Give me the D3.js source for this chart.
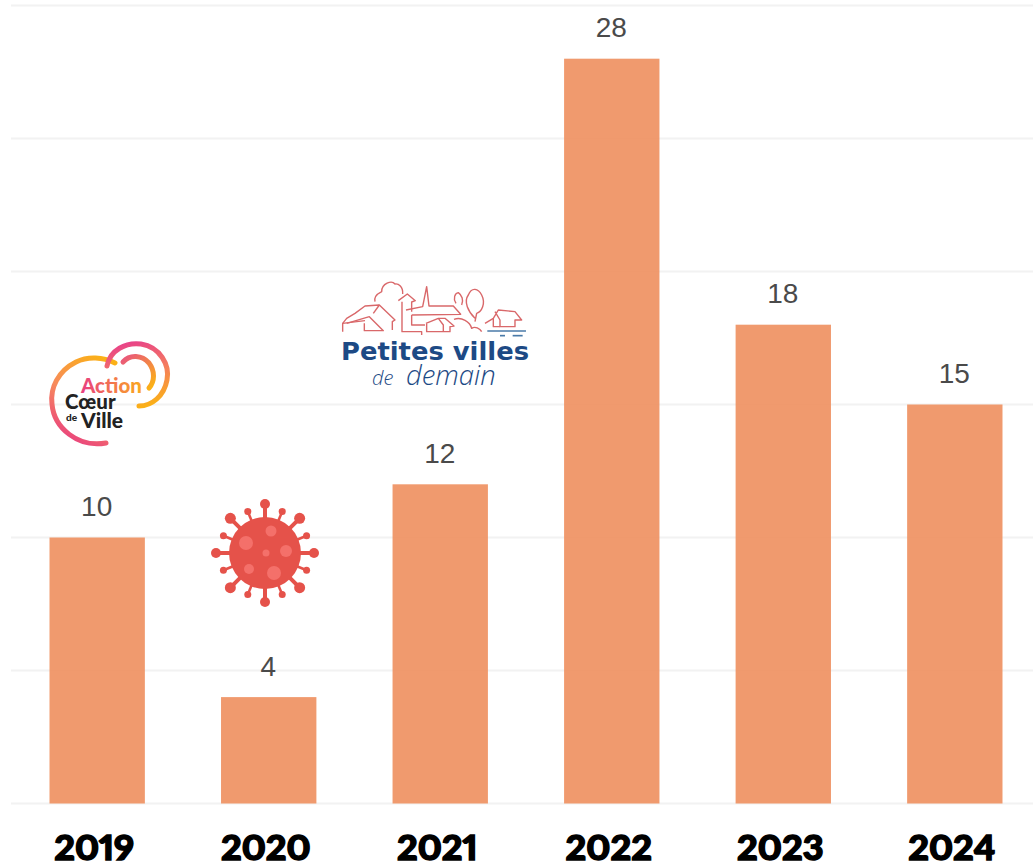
<!DOCTYPE html>
<html>
<head>
<meta charset="utf-8">
<script src="https://d3js.org/d3.v7.min.js"></script>
<style>
html, body { margin: 0; padding: 0; background: #fff; overflow: hidden; }
svg { display: block; }
</style>
</head>
<body>
<div id="chart-area"></div>
<script>
// Chart data
var years = ["2019", "2020", "2021", "2022", "2023", "2024"];
var counts = [10, 4, 12, 28, 18, 15];
var gridTicks = [0, 5, 10, 15, 20, 25, 30];

var width = 1033, height = 863;

var svg = d3.select("#chart-area").append("svg")
    .attr("width", width)
    .attr("height", height);

var defs = svg.append("defs");

// Scales
var x = d3.scaleBand()
    .domain(years)
    .range([49.5, 1002.5])
    .paddingInner(0.444)
    .paddingOuter(0);

var y = d3.scaleLinear()
    .domain([0, 30])
    .range([803.5, 5.5]);

// Gridlines
svg.append("g").selectAll("line")
    .data(gridTicks)
    .join("line")
    .attr("x1", 11)
    .attr("x2", width)
    .attr("y1", d => y(d))
    .attr("y2", d => y(d))
    .attr("stroke", "#f2f2f2")
    .attr("stroke-width", 2);

// Bars
svg.append("g").selectAll("rect")
    .data(counts)
    .join("rect")
    .attr("x", (d, i) => x(years[i]))
    .attr("y", d => y(d))
    .attr("width", x.bandwidth())
    .attr("height", d => y(0) - y(d))
    .attr("fill", "#ee8f5e")
    .attr("fill-opacity", 0.9);

// Value labels
svg.append("g").selectAll("text")
    .data(counts)
    .join("text")
    .attr("x", (d, i) => x(years[i]) + x.bandwidth() / 2 - 0.5)
    .attr("y", d => y(d) - 21.5)
    .attr("text-anchor", "middle")
    .attr("font-family", "'Liberation Sans', Arial, sans-serif")
    .attr("font-size", 28)
    .attr("fill", "#4a4a4a")
    .text(d => d);

// Year labels
var xAxis = d3.axisBottom(x).tickSize(0).tickPadding(0);
var axisG = svg.append("g")
    .attr("transform", "translate(0,803)")
    .call(xAxis);
axisG.select(".domain").remove();
axisG.selectAll("text")
    .attr("y", 0)
    .attr("dy", 0)
    .attr("transform", "translate(-3,57) scale(1.06,1)")
    .attr("font-family", "Lato, sans-serif")
    .attr("font-weight", 900)
    .attr("font-size", 34)
    .attr("fill", "#000")
    .attr("stroke", "#000")
    .attr("stroke-width", 1.4)
    .style("font-variant-numeric", "proportional-nums");

// --- Action Coeur de Ville logo ---
function gradient(id, x1, y1, x2, y2, stops) {
    var g = defs.append("linearGradient")
        .attr("id", id)
        .attr("gradientUnits", "userSpaceOnUse")
        .attr("x1", x1).attr("y1", y1).attr("x2", x2).attr("y2", y2);
    stops.forEach(s => g.append("stop").attr("offset", s[0]).attr("stop-color", s[1]));
}
gradient("acvA", 105, 358, 62, 440, [[0, "#fbb116"], [0.5, "#f78a5c"], [1, "#e9407f"]]);
gradient("acvB", 125, 342, 140, 408, [[0, "#e8418a"], [0.5, "#f57f5b"], [1, "#fbb116"]]);
gradient("acvC", 125, 358, 150, 388, [[0, "#ea5a78"], [1, "#fbb116"]]);
gradient("acvT", 82, 0, 142, 0, [[0, "#e9407f"], [1, "#fbaa1e"]]);

var acv = svg.append("g").attr("fill", "none").attr("stroke-linecap", "round").attr("stroke-width", 5);
acv.append("path").attr("d", "M115 363 C103 357 88 356 76 362 C58 371 50 388 52 404 C54 428 78 448 106 443").attr("stroke", "url(#acvA)");
acv.append("path").attr("d", "M107 366 C110 350 126 342 141 344 C160 347 170 365 167 380 C164 396 152 406 139 406").attr("stroke", "url(#acvB)");
acv.append("path").attr("d", "M123 362 C130 354 142 355 149 363 C155 371 155 381 149 388").attr("stroke", "url(#acvC)");
var acvText = svg.append("g")
    .attr("font-family", "Lato, sans-serif")
    .attr("font-weight", 900);
acvText.append("text").attr("x", 81).attr("y", 393).attr("font-size", 20.5).attr("fill", "url(#acvT)").text("Action");
acvText.append("text").attr("x", 65).attr("y", 409).attr("font-size", 20.5).attr("fill", "#222").text("Cœur");
acvText.append("text").attr("x", 66).attr("y", 421).attr("font-size", 10).attr("fill", "#222").text("de");
acvText.append("text").attr("x", 81).attr("y", 428).attr("font-size", 21).attr("fill", "#222").text("Ville");

// --- Virus icon ---
var virus = svg.append("g").attr("transform", "translate(265,553)");
d3.range(0, 360, 22.5).forEach(function(a, i) {
    var big = i % 2 === 0;
    var len = big ? 49 : 45;
    var r = big ? (i % 4 === 0 ? 5 : 5.5) : 3.5;
    var rad = a * Math.PI / 180;
    var px = Math.cos(rad) * len, py = Math.sin(rad) * len;
    virus.append("line")
        .attr("x2", px).attr("y2", py)
        .attr("stroke", "#e5524a").attr("stroke-width", big ? 4 : 2.6);
    virus.append("circle").attr("cx", px).attr("cy", py).attr("r", r).attr("fill", "#e5524a");
});
virus.append("circle").attr("r", 36).attr("fill", "#e5524a");
var virusDots = [[-19, -10, 7], [6, -22, 5.5], [21, -2, 6], [1, 0, 3.5], [-16, 16, 5], [9, 20, 7]];
virus.selectAll(".dot")
    .data(virusDots)
    .join("circle")
    .attr("class", "dot")
    .attr("cx", d => d[0]).attr("cy", d => d[1]).attr("r", d => d[2])
    .attr("fill", "#f4706a");

// --- Petites villes de demain logo ---
var pvd = svg.append("g")
    .attr("transform", "translate(330,270) scale(0.3333)")
    .attr("fill", "none")
    .attr("stroke", "#d9686a")
    .attr("stroke-width", 4.2)
    .attr("stroke-linejoin", "round");
var pvdPaths = [
    "M38 185 L38 160 L50 145 L75 130 L105 108 L148 105 L195 150 L187 155 L187 180",
    "M50 160 L118 140 L160 182 L103 182 L103 160",
    "M38 160 L105 152",
    "M148 105 L130 130",
    "M135 95 C130 75 150 68 155 65 C155 40 185 30 195 42 C205 40 220 50 218 72",
    "M205 92 L232 72 L256 92 L245 96 L245 125",
    "M216 95 L216 185 L275 185 L275 195",
    "M228 120 L278 110 L290 50 L297 108 L370 108 L392 133 L245 135",
    "M245 135 L245 165 L285 165",
    "M288 160 L325 145 L345 145 L372 168 L360 170 L360 185 L290 185 L290 160",
    "M325 145 L340 165 L340 185",
    "M372 148 C395 140 420 155 425 175 C435 168 450 175 455 185",
    "M378 100 C368 85 375 70 385 68 C395 75 402 90 395 105",
    "M435 145 C415 125 400 95 415 75 C425 50 445 55 455 75 C468 100 455 125 440 130 L435 155",
    "M465 160 L490 145 L505 120 L555 125 L575 150 L555 150 L555 170 L510 170 L510 150 L495 125",
    "M490 145 L490 170 L510 170"
];
pvd.selectAll("path").data(pvdPaths).join("path").attr("d", d => d);
var pvdWater = [[472, 588, 183], [510, 525, 197], [548, 578, 197]];
pvd.append("g").selectAll("line")
    .data(pvdWater)
    .join("line")
    .attr("x1", d => d[0]).attr("x2", d => d[1]).attr("y1", d => d[2]).attr("y2", d => d[2])
    .attr("stroke", "#4a7aa8").attr("stroke-width", 5);
svg.append("text")
    .attr("x", 341).attr("y", 360)
    .attr("font-family", "'DejaVu Sans', sans-serif")
    .attr("font-weight", 700)
    .attr("font-size", 24.5)
    .attr("fill", "#1d4a85")
    .attr("textLength", 188)
    .attr("lengthAdjust", "spacingAndGlyphs")
    .text("Petites villes");
var pvdSub = svg.append("text")
    .attr("y", 385)
    .attr("font-family", "'Open Sans', sans-serif")
    .attr("font-style", "italic")
    .attr("font-weight", 300)
    .attr("fill", "#1d4a85");
pvdSub.append("tspan").attr("x", 372).attr("font-size", 20).text("de");
pvdSub.append("tspan").attr("x", 406).attr("font-size", 27.5).text("demain");
</script>
</body>
</html>
